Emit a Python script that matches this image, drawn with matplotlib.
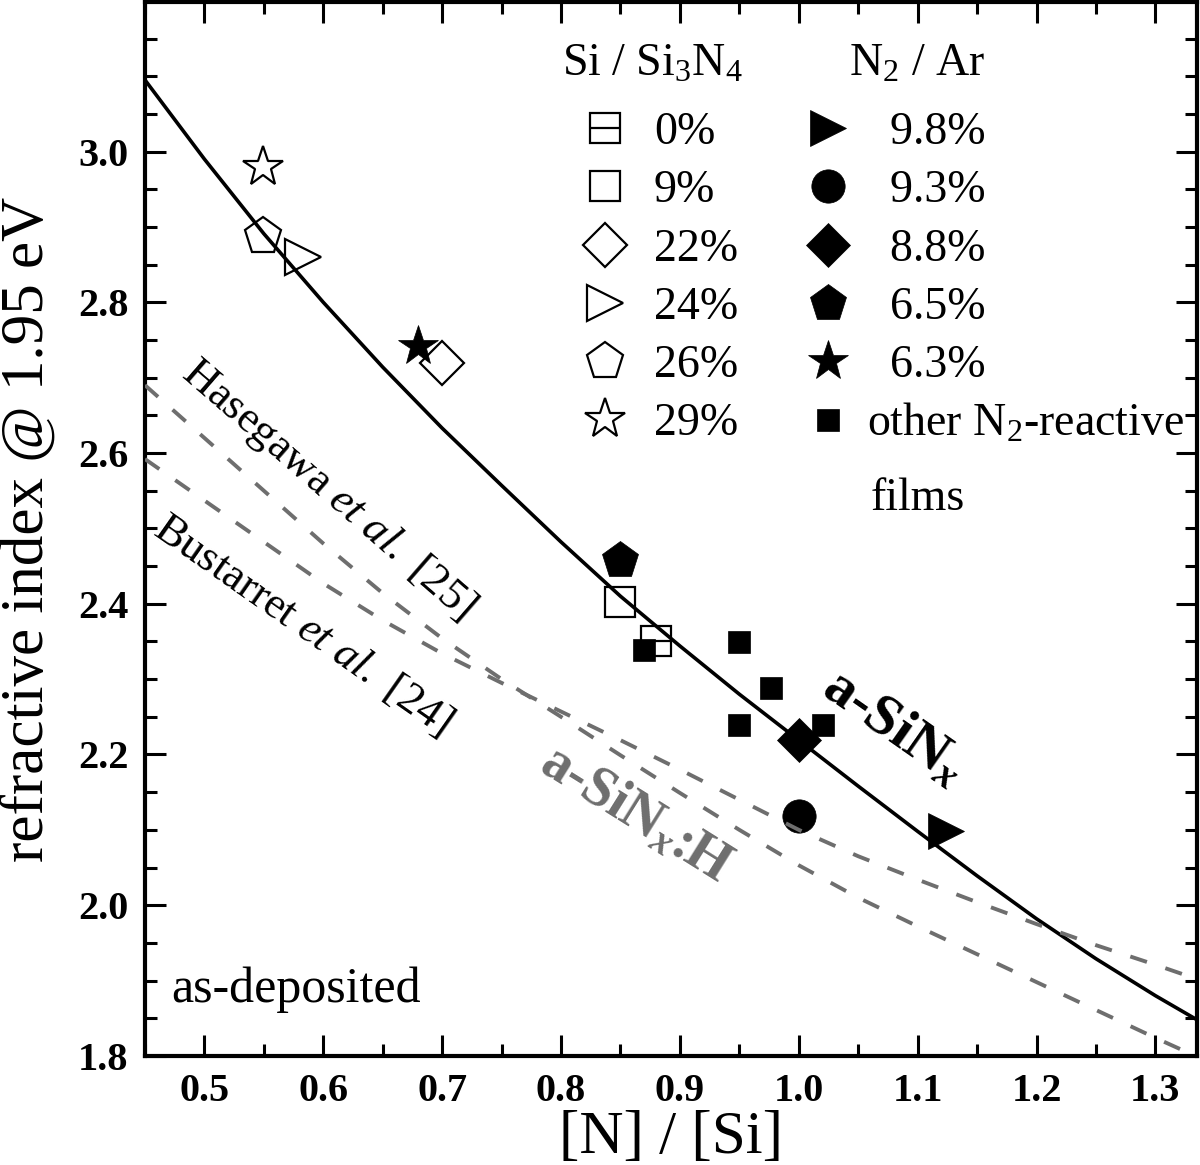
import numpy as np
import matplotlib
matplotlib.use("Agg")
import matplotlib.pyplot as plt
from matplotlib.ticker import MultipleLocator, FormatStrFormatter
from matplotlib.legend_handler import HandlerTuple

plt.rcParams['font.family'] = ['Liberation Serif', 'DejaVu Serif']
plt.rcParams['mathtext.fontset'] = 'custom'
plt.rcParams['mathtext.rm'] = 'Liberation Serif'
plt.rcParams['mathtext.it'] = 'Liberation Serif:italic'
plt.rcParams['mathtext.bf'] = 'Liberation Serif:bold'
plt.rcParams['mathtext.bfit'] = 'Liberation Serif:italic:bold'

# ---- data ----
# fitted curve for a-SiNx (solid)
fit_x = [0.45, 0.50, 0.55, 0.60, 0.65, 0.70, 0.75, 0.80, 0.85, 0.90,
         0.95, 1.00, 1.05, 1.10, 1.15, 1.20, 1.25, 1.30, 1.335]
fit_y = [3.095, 2.990, 2.891, 2.800, 2.714, 2.633, 2.557, 2.482, 2.410, 2.344,
         2.280, 2.219, 2.158, 2.098, 2.039, 1.982, 1.929, 1.880, 1.848]

# literature curves for a-SiNx:H (dashed)
hase_y = [2.690, 2.620, 2.550, 2.480, 2.414, 2.354, 2.300, 2.250, 2.199, 2.149,
          2.100, 2.053, 2.010, 1.972, 1.935, 1.898, 1.861, 1.824, 1.799]
bust_y = [2.592, 2.537, 2.482, 2.427, 2.378, 2.334, 2.295, 2.257, 2.219, 2.180,
          2.140, 2.100, 2.065, 2.034, 2.004, 1.975, 1.947, 1.921, 1.902]

# Si / Si3N4 co-sputtered films (open symbols)
cosp_labels = ['0%', '9%', '22%', '24%', '26%', '29%']
cosp_x = [0.880, 0.850, 0.700, 0.583, 0.549, 0.549]
cosp_y = [2.350, 2.402, 2.719, 2.860, 2.888, 2.979]
cosp_markers = ['s', 's', 'D', '>', 'p', '*']
cosp_sizes = [21, 21, 22, 26, 28, 30]

# N2 / Ar reactive films (filled symbols)
react_labels = ['9.8%', '9.3%', '8.8%', '6.5%', '6.3%']
react_x = [1.124, 1.000, 1.000, 0.850, 0.680]
react_y = [2.099, 2.119, 2.219, 2.458, 2.742]
react_markers = ['>', 'o', 'D', 'p', '*']
react_sizes = [26, 24, 22, 28, 30]

# other N2-reactive films
other_x = [0.870, 0.950, 0.977, 0.950, 1.020]
other_y = [2.338, 2.349, 2.288, 2.239, 2.239]

# ---- figure ----
fig = plt.figure(figsize=(12, 11.65), dpi=100)
ax = fig.add_axes([0.1208, 0.0936, 0.8767, 0.9044])

gray = '#6e6e6e'
ax.plot(fit_x, fit_y, color='black', lw=2.6, zorder=2)
ax.plot(fit_x, hase_y, color=gray, lw=2.8, dashes=(4.5, 5), zorder=4)
ax.plot(fit_x, bust_y, color=gray, lw=2.8, dashes=(4.5, 5), zorder=4)

cosp_handles = []
for lab, x, y, m, s in zip(cosp_labels, cosp_x, cosp_y, cosp_markers, cosp_sizes):
    h, = ax.plot([x], [y], linestyle='none', marker=m, ms=s, mfc='none',
                 mec='black', mew=1.6, zorder=3)
    if lab == '0%':
        bar, = ax.plot([x], [y], linestyle='none', marker='_', ms=s,
                       mec='black', mew=1.6, zorder=3)
        cosp_handles.append((h, bar))
    else:
        cosp_handles.append(h)

react_handles = []
for lab, x, y, m, s in zip(react_labels, react_x, react_y, react_markers, react_sizes):
    h, = ax.plot([x], [y], linestyle='none', marker=m, ms=s, mfc='black',
                 mec='black', mew=0.5, zorder=3.5)
    react_handles.append(h)

h_other, = ax.plot(other_x, other_y, linestyle='none', marker='s', ms=16.5,
                   mfc='black', mec='black', mew=0.5, zorder=3.5)

# ---- axes styling ----
ax.set_xlim(0.45, 1.335)
ax.set_ylim(1.8, 3.198)
ax.xaxis.set_major_locator(MultipleLocator(0.1))
ax.xaxis.set_minor_locator(MultipleLocator(0.05))
ax.yaxis.set_major_locator(MultipleLocator(0.2))
ax.yaxis.set_minor_locator(MultipleLocator(0.05))
ax.xaxis.set_major_formatter(FormatStrFormatter('%.1f'))
ax.yaxis.set_major_formatter(FormatStrFormatter('%.1f'))
ax.tick_params(which='both', direction='in', top=True, right=True, width=2.2)
ax.tick_params(which='major', length=15, pad=12, labelsize=29)
ax.tick_params(which='minor', length=8.5)
for lab in ax.get_xticklabels() + ax.get_yticklabels():
    lab.set_fontweight('bold')
for sp in ax.spines.values():
    sp.set_linewidth(3)

ax.set_xlabel('[N] / [Si]', fontsize=44)
ax.xaxis.set_label_coords(0.5, -0.052)
ax.set_ylabel('refractive index @ 1.95 eV', fontsize=44)
ax.yaxis.set_label_coords(-0.085, 0.5)

# ---- annotations ----
ax.text(0.472, 1.888, 'as-deposited', fontsize=36, ha='left', va='center')
ax.text(0.604, 2.551, r'Hasegawa $\mathit{et\ al.}$ [25]', fontsize=32,
        rotation=-41, rotation_mode='anchor', ha='center', va='center')
ax.text(0.583, 2.372, r'Bustarret $\mathit{et\ al.}$ [24]', fontsize=32,
        rotation=-35, rotation_mode='anchor', ha='center', va='center')
ax.text(1.080, 2.236, r'a-SiN$_{\mathbfit{x}}$', fontsize=42, fontweight='bold',
        rotation=-35, rotation_mode='anchor', ha='center', va='center')
ax.text(0.862, 2.120, r'a-SiN$_{\mathbfit{x}}$:H', fontsize=40, fontweight='bold',
        color=gray, rotation=-32, rotation_mode='anchor', ha='center', va='center')

# ---- legends ----
ax.text(0.3964, 0.9307, r'Si / Si$_3$N$_4$', fontsize=33, transform=ax.transAxes,
        ha='left', va='baseline')
ax.text(0.6692, 0.9307, r'N$_2$ / Ar', fontsize=33, transform=ax.transAxes,
        ha='left', va='baseline')

leg_kw = dict(frameon=False, fontsize=33, numpoints=1, borderpad=0,
              borderaxespad=0, handlelength=1.0, labelspacing=0.34)
leg1 = ax.legend(cosp_handles, cosp_labels, loc='upper left',
                 bbox_to_anchor=(0.4154, 0.896), handletextpad=0.57,
                 handler_map={tuple: HandlerTuple(ndivide=1)}, **leg_kw)
ax.add_artist(leg1)
ax.legend(react_handles + [h_other],
          ['  ' + l for l in react_labels] + [r'other N$_2$-reactive'],
          loc='upper left', bbox_to_anchor=(0.6274, 0.896),
          handletextpad=0.35, **leg_kw)
# second line of the last legend label
ax.text(0.690, 0.518, 'films', fontsize=33, transform=ax.transAxes,
        ha='left', va='baseline')

fig.savefig('out.png', dpi=100)
